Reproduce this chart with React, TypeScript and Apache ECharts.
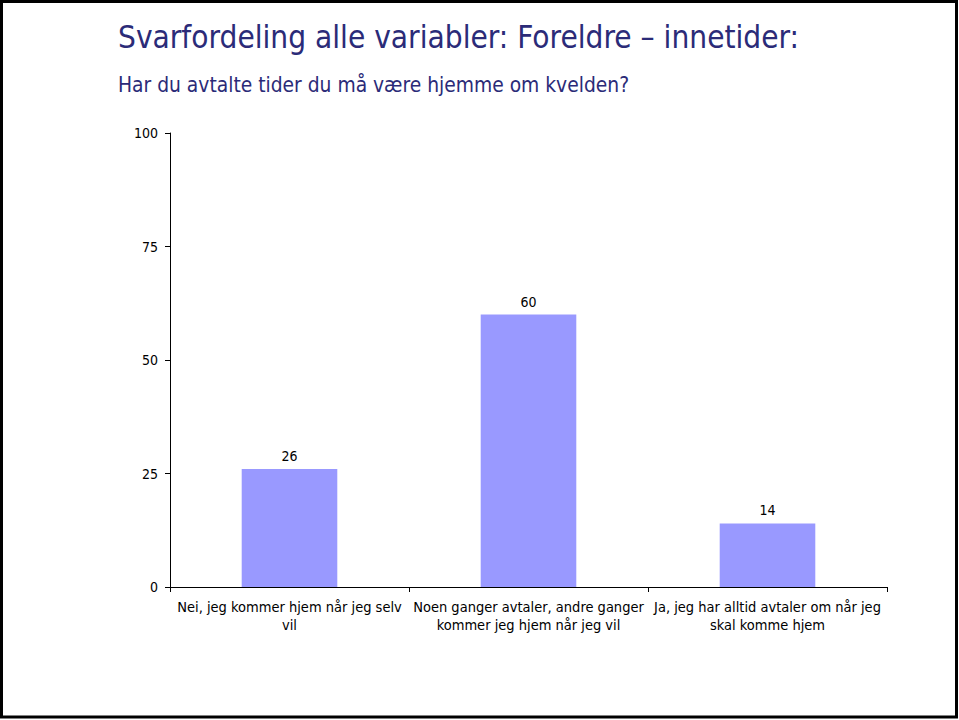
import React, { useEffect, useRef } from "react";
import * as echarts from "echarts";

const categories = [
  "Nei, jeg kommer hjem når jeg selv\nvil",
  "Noen ganger avtaler, andre ganger\nkommer jeg hjem når jeg vil",
  "Ja, jeg har alltid avtaler om når jeg\nskal komme hjem",
];
const values = [26, 60, 14];
const titleText = "Svarfordeling alle variabler: Foreldre – innetider:";
const subtitleText = "Har du avtalte tider du må være hjemme om kvelden?";

const FONT = "'DejaVu Sans Condensed', 'Liberation Sans', sans-serif";

export default function App() {
  const ref = useRef<HTMLDivElement>(null);
  useEffect(() => {
    document.body.style.margin = "0";
    const chart = echarts.init(ref.current!, undefined, { renderer: "svg" });
    chart.setOption({
      animation: false,
      backgroundColor: "#ffffff",
      textStyle: { fontFamily: FONT },
      title: [
        {
          text: titleText,
          left: 113,
          top: 16,
          textStyle: { color: "#2b2b78", fontSize: 31.3, fontWeight: "normal", fontFamily: FONT },
        },
        {
          text: subtitleText,
          left: 113,
          top: 69,
          textStyle: { color: "#2b2b78", fontSize: 20.8, fontWeight: "normal", fontFamily: FONT },
        },
      ],
      graphic: [
        {
          type: "rect",
          shape: { x: 1.5, y: 1.5, width: 955, height: 715.5 },
          style: { fill: "none", stroke: "#000", lineWidth: 3 },
          silent: true,
        },
      ],
      grid: { left: 170, top: 133, right: 72, bottom: 133, containLabel: false },
      xAxis: {
        type: "category",
        data: categories,
        axisLine: { lineStyle: { color: "#000", width: 1 } },
        axisTick: { show: true, length: 5, alignWithLabel: false, lineStyle: { color: "#000" } },
        axisLabel: { color: "#000", fontSize: 14.5, lineHeight: 18, margin: 11, interval: 0, fontFamily: FONT },
      },
      yAxis: {
        type: "value",
        min: 0,
        max: 100,
        interval: 25,
        axisLine: { show: true, lineStyle: { color: "#000", width: 1 } },
        axisTick: { show: true, length: 5, lineStyle: { color: "#000" } },
        splitLine: { show: false },
        axisLabel: { color: "#000", fontSize: 14, margin: 12, fontFamily: FONT },
      },
      series: [
        {
          type: "bar",
          data: values,
          barWidth: "40%",
          itemStyle: { color: "#9999ff" },
          label: { show: true, position: "top", color: "#000", fontSize: 14, distance: 6, fontFamily: FONT },
        },
      ],
    });
    return () => chart.dispose();
  }, []);
  return <div ref={ref} style={{ width: 959, height: 720 }} />;
}
